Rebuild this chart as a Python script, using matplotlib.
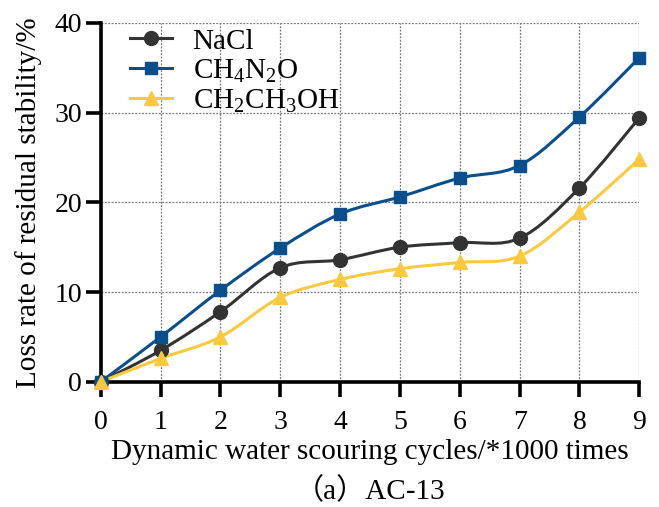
import matplotlib
matplotlib.use('Agg')
import matplotlib.pyplot as plt
import numpy as np
from matplotlib.path import Path
from matplotlib.patches import PathPatch

plt.rcParams['font.family'] = ['Liberation Serif', 'Noto Sans CJK SC']
plt.rcParams['mathtext.default'] = 'regular'

# Data
cycles = [0, 1, 2, 3, 4, 5, 6, 7, 8, 9]
nacl = [0, 3.5, 7.8, 12.7, 13.6, 15.0, 15.5, 16.0, 21.6, 29.4]
urea = [0, 5.0, 10.2, 14.9, 18.7, 20.6, 22.7, 24.1, 29.5, 36.1]
ethanol = [0, 2.6, 5.0, 9.4, 11.4, 12.6, 13.3, 14.0, 18.9, 24.8]

series = [
    ('NaCl', nacl, '#333333', 'o', 10),
    ('CH$_4$N$_2$O', urea, '#0a4f8c', 's', 9),
    ('CH$_2$CH$_3$OH', ethanol, '#fbc940', '^', 10),
]


def smooth_path(x, y):
    # Catmull-Rom spline through the points, as cubic Bezier segments
    x = np.asarray(x, float)
    y = np.asarray(y, float)
    verts = [(x[0], y[0])]
    codes = [Path.MOVETO]
    n = len(x)
    for i in range(n - 1):
        i0 = max(i - 1, 0)
        i3 = min(i + 2, n - 1)
        c1 = (x[i] + (x[i + 1] - x[i0]) / 6, y[i] + (y[i + 1] - y[i0]) / 6)
        c2 = (x[i + 1] - (x[i3] - x[i]) / 6, y[i + 1] - (y[i3] - y[i]) / 6)
        verts += [c1, c2, (x[i + 1], y[i + 1])]
        codes += [Path.CURVE4] * 3
    return Path(verts, codes)


fig = plt.figure(figsize=(6.59, 5.07), dpi=100)
ax = fig.add_axes([0.153, 0.247, 0.817, 0.708])

for label, vals, color, marker, ms in series:
    ax.add_patch(PathPatch(smooth_path(cycles, vals), facecolor='none',
                           edgecolor=color, linewidth=2.2, zorder=3, clip_on=False))
    ax.plot(cycles, vals, linestyle='none', marker=marker, color=color,
            markersize=ms, zorder=4, clip_on=False)
    # legend proxy
    ax.plot([], [], color=color, marker=marker, markersize=ms, linewidth=2.2, label=label)

ax.set_xlim(0, 9)
ax.set_ylim(0, 40)
ax.set_xticks(range(0, 10))
ax.set_yticks([0, 10, 20, 30, 40])
ax.grid(True, linestyle=(0, (1.5, 1.2)), color='#777777', linewidth=0.9)
ax.set_axisbelow(True)

for s in ['top', 'right']:
    ax.spines[s].set_visible(False)
for s in ['left', 'bottom']:
    ax.spines[s].set_linewidth(2.6)
ax.tick_params(direction='out', length=10.5, width=2.6, labelsize=20)
ax.tick_params(axis='x', pad=10)
ax.tick_params(axis='y', pad=3)

ax.set_xlabel('Dynamic water scouring cycles/*1000 times', fontsize=21, labelpad=3)
ax.set_ylabel('Loss rate of residual stability/%', fontsize=21, labelpad=9)

ax.legend(loc='upper left', bbox_to_anchor=(0.054, 0.985), frameon=False,
          fontsize=21, handlelength=1.45, handletextpad=0.7, labelspacing=0.1,
          borderaxespad=0, borderpad=0)

fig.text(0.561, 0.03, '（a）AC-13', fontsize=21, ha='center', va='center')

fig.savefig('out.png', dpi=100)
